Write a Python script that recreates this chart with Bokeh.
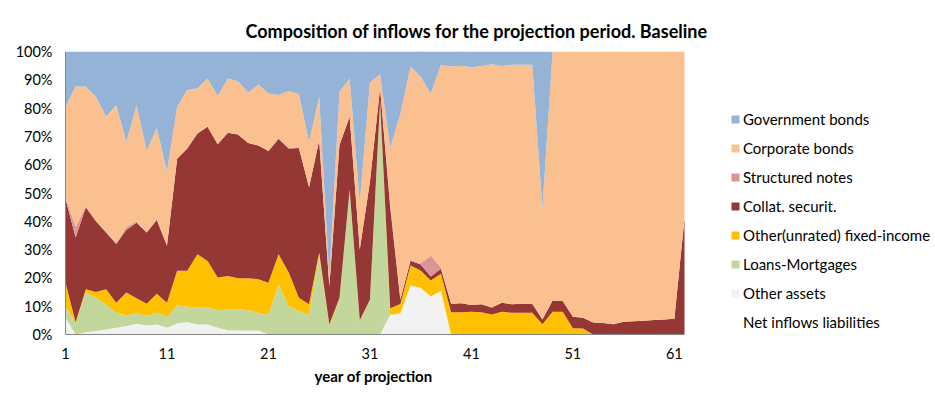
from bokeh.plotting import figure
from bokeh.models import (ColumnDataSource, FixedTicker, PrintfTickFormatter, Legend,
                          LegendItem, Title, Range1d)
from bokeh.embed import file_html
from bokeh.resources import INLINE

years = list(range(1, 63))

other_assets = [6, 0, 0.8, 1.2, 1.8, 2.4, 3, 3.8, 3.2, 3.5,
                2.4, 3.9, 4.4, 3.5, 3.5, 2.4, 1.5, 1.4, 1.4, 1.4,
                0, 0, 0, 0, 0, 0, 0, 0, 0, 0,
                0, 0, 7, 7.5, 17.3, 16.5, 13.4, 15.5, 0, 0,
                0, 0, 0, 0, 0, 0, 0, 0, 0, 0,
                0, 0, 0, 0, 0, 0, 0, 0, 0, 0,
                0, 0]
loans = [4, 4, 14, 11.8, 8.8, 5.3, 3.7, 3.9, 3.3, 4.2,
         3.9, 6.4, 5.4, 6, 6.2, 6.2, 7.4, 7.5, 7.2, 6.3,
         7, 17.8, 10, 8.3, 7.1, 27.8, 3, 12.4, 50.9, 4.7,
         12, 82, 0, 0, 0, 0, 0, 0, 0, 0,
         0, 0, 0, 0, 0, 0, 0, 0, 0, 0,
         0, 0, 0, 0, 0, 0, 0, 0, 0, 0,
         0, 0]
other_fi = [8.3, 0.3, 1.2, 2, 5.4, 3.5, 8.1, 5.1, 4.4, 6.7,
            4.9, 12.2, 12.7, 18.9, 16.3, 11.5, 11.8, 11, 11.3, 11.8,
            11.3, 10.6, 11.9, 4.7, 3.6, 1.2, 0.5, 0.6, 0.3, 0.3,
            0.3, 0.5, 2.3, 3.3, 7.1, 6.1, 5.7, 6, 7.9, 7.9,
            8, 7.9, 7.1, 8, 7.7, 7.7, 7.7, 3.6, 8, 8,
            2.2, 2.1, 0, 0, 0, 0, 0, 0, 0, 0,
            0, 0]
collat = [29.7, 30, 29, 25, 20, 20.8, 22.2, 26.7, 25.1, 26.1,
          20.2, 39.6, 43.2, 42.6, 47.4, 47.1, 50.6, 50.8, 47.8, 47.3,
          46.5, 40.8, 43.8, 52.9, 41.3, 39.6, 13.5, 54, 25.7, 25,
          41.7, 4.5, 35.7, 1.5, 1.7, 2.1, 1.4, 1.7, 3, 3.1,
          2.4, 2.8, 2.4, 3.2, 3, 3.2, 3.2, 1.7, 4, 3.8,
          4.1, 3.8, 4.2, 4.1, 3.6, 4.5, 4.7, 4.9, 5.1, 5.3,
          5.6, 41]
structured = [0.5, 3.7, 0.3, 0.3, 0.3, 0.3, 1, 0.5, 0, 0.3,
              0, 0, 0, 0, 0, 0, 0, 0, 0, 0,
              0, 0, 0, 0, 0, 0, 0, 0, 0, 0,
              0, 0, 1.5, 0.2, 0.2, 0.4, 7.4, 0.4, 0, 0,
              0, 0, 0, 0, 0, 0, 0, 0, 0, 0,
              0, 0, 0, 0, 0, 0, 0, 0, 0, 0,
              0, 0]
corporate = [32, 49.6, 42.3, 43.7, 40.7, 48.7, 30, 41, 29, 32.2,
             26.1, 18.4, 20.7, 16, 17.1, 17.2, 19.2, 18.8, 17.8, 21.5,
             20.4, 15.4, 20.3, 19.1, 16, 15.4, 3, 18.8, 13.6, 16.7,
             35, 5, 19.5, 65.5, 68.4, 66, 57.3, 71.7, 83.8, 84,
             84, 84.2, 86, 83.7, 84.6, 84.4, 84.4, 39.1, 88, 88.2,
             93.7, 94.1, 95.8, 95.9, 96.4, 95.5, 95.3, 95.1, 94.9, 94.7,
             94.4, 59]
government = [19.5, 12.4, 12.4, 16, 23, 19, 32, 19, 35, 27,
              42.5, 19.5, 13.6, 13, 9.5, 15.6, 9.5, 10.5, 14.5, 11.7,
              14.8, 15.4, 14, 15, 32, 16, 80, 14.2, 9.5, 53.3,
              11, 8, 34, 22, 5.3, 9, 14.8, 4.7, 5.3, 5.1,
              5.6, 5.1, 4.5, 5.1, 4.7, 4.7, 4.7, 55.6, 0, 0,
              0, 0, 0, 0, 0, 0, 0, 0, 0, 0,
              0, 0]

series_names = ["Other assets", "Loans-Mortgages", "Other(unrated) fixed-income",
                "Collat. securit.", "Structured notes", "Corporate bonds",
                "Government bonds"]
net_label = "Net inflows liabilities"
x_ticks = [1, 11, 21, 31, 41, 51, 61]
y_ticks = list(range(0, 101, 10))

colors = ["#F2F2F2", "#C3D69B", "#FFC000", "#953735", "#D99694", "#FAC090", "#95B3D7"]

source = ColumnDataSource(dict(
    x=years, s0=other_assets, s1=loans, s2=other_fi, s3=collat,
    s4=structured, s5=corporate, s6=government))

FONT = "Lato"

# plot frame extends under the legend; the data area spans years 1..62 (619 px)
W, H = 934, 395
BL, BR, BT, BB = 65, 2, 51, 61
frame_w = W - BL - BR
x_end = years[0] + (years[-1] - years[0]) * frame_w / 619.0

p = figure(width=W, height=H, output_backend="svg", toolbar_location=None,
           x_range=Range1d(years[0], x_end), y_range=Range1d(0, 100),
           min_border_left=BL, min_border_right=BR, min_border_top=BT,
           min_border_bottom=BB)
p.title = Title(text="Composition of inflows for the projection period. Baseline",
                align="left", offset=180, text_font=FONT, text_font_size="18px",
                text_font_style="bold", text_color="#000000", standoff=20)

renderers = p.varea_stack(stackers=["s0", "s1", "s2", "s3", "s4", "s5", "s6"],
                          x="x", color=colors, source=source)
net_r = p.line(x=[], y=[], line_alpha=0)

p.grid.visible = False
p.outline_line_color = None
p.background_fill_color = "white"

for ax in (p.xaxis[0], p.yaxis[0]):
    ax.axis_line_color = "#868686"
    ax.major_tick_line_color = None
    ax.minor_tick_line_color = None
    ax.major_tick_out = 0
    ax.major_tick_in = 0
    ax.minor_tick_out = 0
    ax.major_label_text_font = FONT
    ax.major_label_text_font_size = "14.5px"
    ax.major_label_text_color = "#000000"

p.xaxis.bounds = (years[0], years[-1])
p.xaxis.ticker = FixedTicker(ticks=x_ticks)
p.xaxis.major_label_standoff = 13

p.yaxis.ticker = FixedTicker(ticks=y_ticks)
p.yaxis.formatter = PrintfTickFormatter(format="%d%%")
p.yaxis.major_label_standoff = 13

# x-axis title, centred under the data area (years 1..62)
p.add_layout(Title(text="year of projection", align="left", offset=249,
                   text_font=FONT, text_font_size="15px", text_font_style="bold",
                   text_color="#000000", standoff=6), "below")

items = []
for i in range(6, -1, -1):
    items.append(LegendItem(label=series_names[i], renderers=[renderers[i]]))
items.append(LegendItem(label=net_label, renderers=[net_r]))

legend = Legend(items=items, location=(665, -2.5), glyph_width=10, glyph_height=10,
                label_standoff=3, label_height=29, spacing=0, padding=0, margin=0,
                border_line_color=None, background_fill_alpha=0,
                label_text_font=FONT, label_text_font_size="15px",
                label_text_color="#000000")
p.add_layout(legend, "center")

open("out.html", "w").write(file_html(p, INLINE))
